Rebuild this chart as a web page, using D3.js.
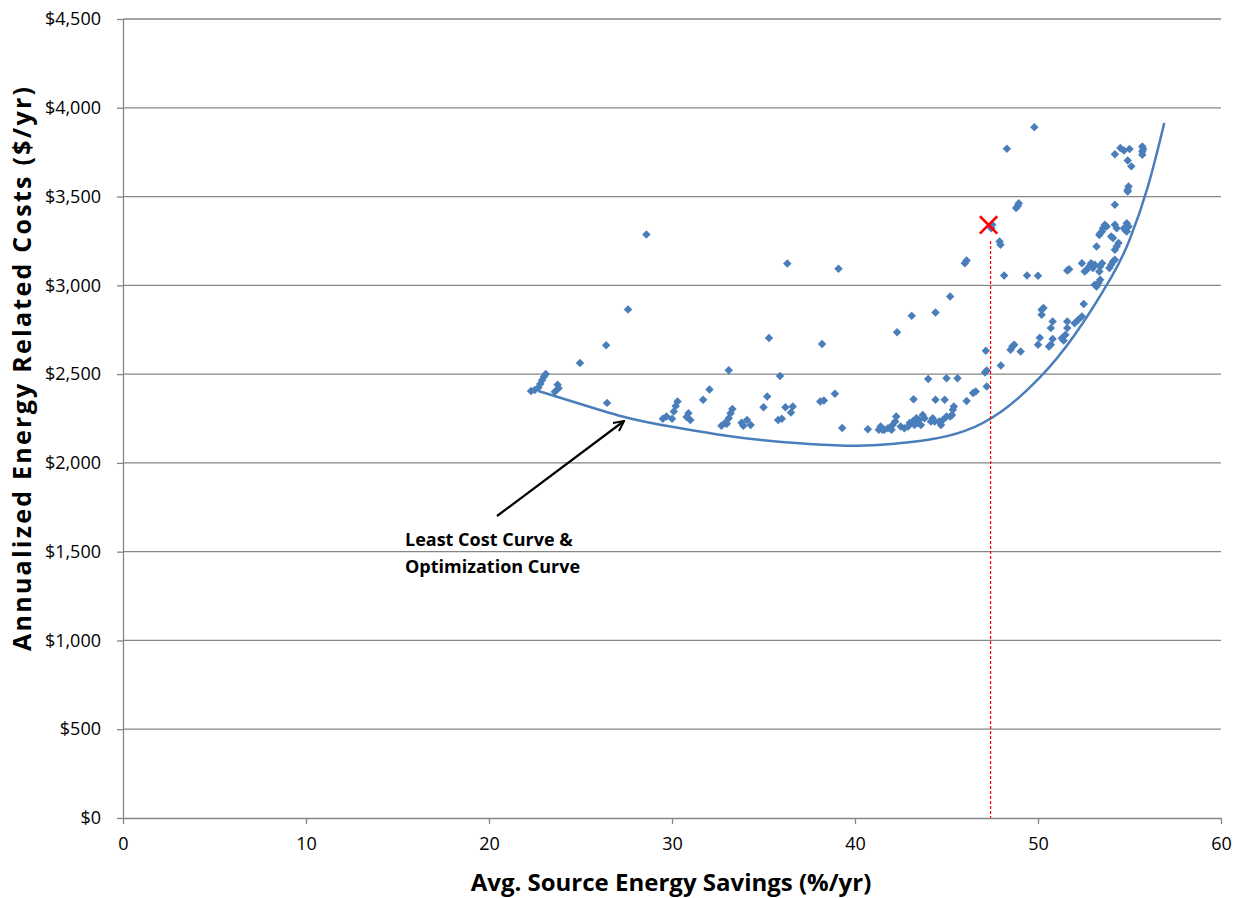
<!DOCTYPE html>
<html>
<head>
<meta charset="utf-8">
<script src="https://cdn.jsdelivr.net/npm/d3@7"></script>
<style>
  body { margin: 0; background: #fff; }
  svg { display: block; font-family: "Open Sans", sans-serif; }
</style>
</head>
<body>
<svg id="chart" width="1239" height="898"></svg>
<script>
// scatter: avg source energy savings (%/yr) vs annualized cost ($/yr)
var savings = [22.3,22.5,22.7,22.8,22.9,23.0,23.1,23.6,23.75,23.8,24.97,26.4,26.45,27.6,28.6,
  29.5,29.7,30.0,30.1,30.2,30.3,30.8,30.9,31.0,31.7,32.05,32.7,32.9,33.0,33.1,33.2,33.3,33.1,
  33.8,33.9,34.1,34.3,35.0,35.2,35.3,35.8,36.0,35.9,36.2,36.5,36.6,36.3,
  38.1,38.3,38.2,38.9,39.1,39.3,40.7,41.3,41.5,41.6,41.8,41.4,42.0,42.05,42.2,42.25,42.3,
  42.5,42.7,42.9,42.99,43.15,43.25,43.35,43.5,43.6,43.4,43.7,43.8,43.1,43.2,
  44.0,44.15,44.25,44.35,44.4,44.4,44.6,44.7,44.8,44.9,45.0,45.0,45.2,45.2,45.3,45.35,45.4,45.6,
  46.0,46.1,46.1,46.45,46.6,47.1,47.2,47.2,47.15,47.45,47.5,47.9,47.95,47.97,48.15,48.3,
  48.5,48.6,48.7,49.05,48.8,48.9,48.95,49.4,49.8,
  50.0,50.0,50.1,50.2,50.2,50.3,50.6,50.7,50.7,50.8,50.8,51.3,51.4,51.5,51.6,51.6,51.6,51.7,
  52.0,52.2,52.4,52.5,52.4,52.55,52.65,52.8,52.9,53.0,53.1,53.1,53.2,53.3,53.4,53.2,53.35,53.4,53.5,
  53.35,53.4,53.5,53.55,53.65,53.75,
  53.9,54.0,54.1,54.2,54.0,54.1,54.2,54.3,54.2,54.3,54.4,54.2,
  54.7,54.75,54.85,54.85,54.95,
  54.9,54.9,54.95,54.9,55.1,54.2,54.5,54.7,55.0,55.7,55.7,55.75,55.7];
var costs = [2405,2410,2425,2445,2465,2485,2500,2400,2440,2420,2562,2662,2338,2864,3286,
  2248,2261,2248,2289,2321,2346,2258,2280,2242,2355,2413,2209,2224,2220,2252,2280,2303,2522,
  2226,2209,2242,2214,2314,2374,2703,2242,2248,2490,2314,2284,2317,3123,
  2346,2351,2669,2389,3093,2197,2190,2186,2186,2186,2195,2205,2186,2214,2233,2261,2736,
  2205,2195,2205,2224,2233,2214,2252,2242,2214,2224,2270,2252,2828,2359,
  2473,2233,2252,2233,2355,2847,2233,2214,2242,2355,2261,2477,2261,2937,2270,2299,2317,2477,
  3125,3140,2349,2393,2402,2509,2520,2430,2631,3322,3341,3247,3228,2548,3055,3769,
  2637,2655,2665,2627,3435,3448,3463,3055,3891,
  3054,2665,2705,2834,2862,2872,2655,2665,2759,2796,2698,2702,2689,2721,2759,2796,3084,3091,
  2787,2806,2825,2895,3125,3078,3087,3106,3125,3097,3116,3003,2993,3013,3031,3219,3078,3106,3125,
  3284,3294,3303,3322,3341,3331,
  3097,3116,3134,3144,3275,3266,3341,3322,3200,3219,3238,3454,
  3322,3313,3350,3303,3331,
  3528,3538,3557,3703,3670,3738,3773,3760,3768,3782,3754,3768,3735];

// least cost / optimization curve
var curveX = [22.7,25,27.5,30,32.5,35,37.5,40,42,44,46,48,50,52,54,55,56,56.9];
var curveY = [2405,2332,2256,2203,2160,2127,2107,2097,2106,2130,2180,2290,2470,2720,3045,3255,3555,3914];

// chosen point
var chosen = [47.3, 3340];
var dropTop = 3250;

var xTicks = [0,10,20,30,40,50,60];
var yTicks = [0,500,1000,1500,2000,2500,3000,3500,4000,4500];

var svg = d3.select("#chart");
var pLeft = 123, pRight = 1221, pTop = 19, pBottom = 818;
var gridColor = "#868686", blue = "#4A7EBB";

var x = d3.scaleLinear().domain([0,60]).range([pLeft,pRight]);
var y = d3.scaleLinear().domain([0,4500]).range([pBottom,pTop]);

// gridlines
svg.append("g")
    .selectAll("line")
    .data(yTicks.slice(1))
    .enter().append("line")
    .attr("x1", pLeft).attr("x2", pRight)
    .attr("y1", d => y(d)).attr("y2", d => y(d))
    .attr("stroke", gridColor).attr("stroke-width", 1.3);

var yAxis = svg.append("g")
    .attr("transform", "translate(" + pLeft + ",0)")
    .call(d3.axisLeft(y).tickValues(yTicks).tickSize(6).tickSizeOuter(0).tickPadding(16)
      .tickFormat(d => "$" + d3.format(",")(d)));
var xAxis = svg.append("g")
    .attr("transform", "translate(0," + pBottom + ")")
    .call(d3.axisBottom(x).tickValues(xTicks).tickSize(6).tickSizeOuter(0).tickPadding(13));

[yAxis, xAxis].forEach(function(a){
  a.select(".domain").attr("stroke", gridColor).attr("stroke-width", 1.3);
  a.selectAll(".tick line").attr("stroke", gridColor).attr("stroke-width", 1.3);
  a.selectAll("text").attr("fill", "#000").style("font-size", "18px").style("font-family", "Open Sans");
});

// axis titles
svg.append("text")
    .attr("x", 671).attr("y", 891)
    .attr("text-anchor", "middle")
    .style("font-size", "24px").style("font-weight", "bold")
    .text("Avg. Source Energy Savings (%/yr)");
svg.append("text")
    .attr("transform", "translate(31,369) rotate(-90)")
    .attr("text-anchor", "middle")
    .attr("textLength", 564).attr("lengthAdjust", "spacing")
    .style("font-size", "25px").style("font-weight", "bold")
    .text("Annualized Energy Related Costs ($/yr)");

// curve
var curvePts = curveX.map((d, i) => [d, curveY[i]]);
svg.append("path")
    .datum(curvePts)
    .attr("fill", "none")
    .attr("stroke", blue)
    .attr("stroke-width", 2.5)
    .attr("d", d3.line().x(d => x(d[0])).y(d => y(d[1])).curve(d3.curveNatural));

// scatter points (diamonds)
var diamond = d3.symbol().type(d3.symbolSquare).size(36);
svg.append("g")
    .selectAll("path")
    .data(savings.map((d, i) => [d, costs[i]]))
    .enter().append("path")
    .attr("d", diamond)
    .attr("fill", blue)
    .attr("transform", d => "translate(" + x(d[0]) + "," + y(d[1]) + ") rotate(45)");

// drop line + marker
svg.append("line")
    .attr("x1", x(chosen[0]) + 2).attr("x2", x(chosen[0]) + 2)
    .attr("y1", y(dropTop)).attr("y2", y(0))
    .attr("stroke", "#FF0000").attr("stroke-width", 1.2)
    .attr("stroke-dasharray", "3,2");
svg.append("path")
    .attr("d", d3.symbol().type(d3.symbolX).size(200))
    .attr("transform", "translate(" + x(chosen[0]) + "," + y(chosen[1]) + ")")
    .attr("fill", "none").attr("stroke", "#FF0000").attr("stroke-width", 2.5);

// annotation
var defs = svg.append("defs");
defs.append("marker")
    .attr("id", "arrow")
    .attr("viewBox", "0 0 12 12")
    .attr("refX", 11).attr("refY", 6)
    .attr("markerWidth", 12).attr("markerHeight", 12)
    .attr("markerUnits", "userSpaceOnUse")
    .attr("orient", "auto")
  .append("path")
    .attr("d", "M1,1 L11,6 L1,11")
    .attr("fill", "none").attr("stroke", "#000").attr("stroke-width", 2);
svg.append("line")
    .attr("x1", 497).attr("y1", 516)
    .attr("x2", 624).attr("y2", 421)
    .attr("stroke", "#000").attr("stroke-width", 2.2)
    .attr("marker-end", "url(#arrow)");
var note = svg.append("text")
    .style("font-size", "18px").style("font-weight", "bold");
note.append("tspan").attr("x", 405).attr("y", 546).text("Least Cost Curve &");
note.append("tspan").attr("x", 405).attr("y", 573).text("Optimization Curve");
</script>
</body>
</html>
